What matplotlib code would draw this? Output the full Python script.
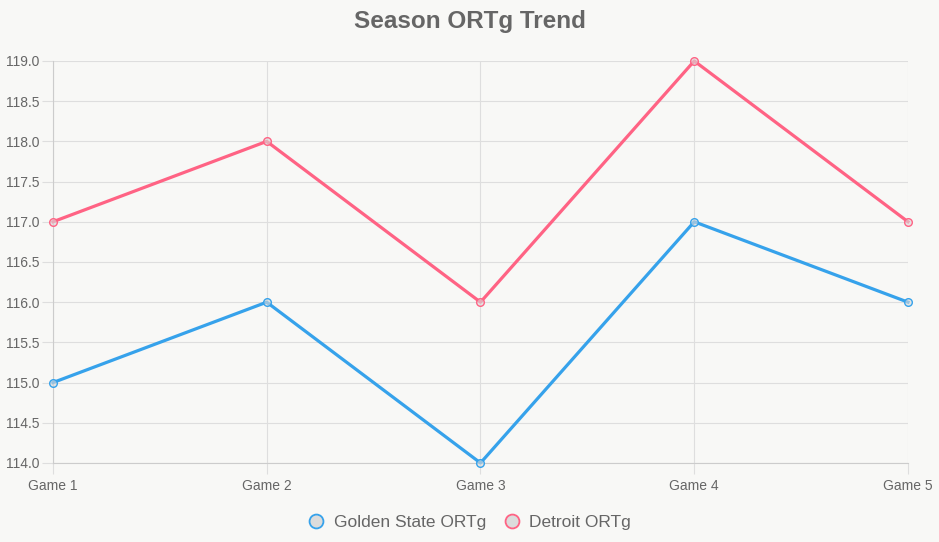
import matplotlib.pyplot as plt

games = ["Game 1", "Game 2", "Game 3", "Game 4", "Game 5"]
gsw_ortg = [115, 116, 114, 117, 116]
det_ortg = [117, 118, 116, 119, 117]
y_ticks = [114.0, 114.5, 115.0, 115.5, 116.0, 116.5, 117.0, 117.5, 118.0, 118.5, 119.0]

bg = "#f8f8f6"
grid_c = "#dedede"
text_c = "#666666"
blue = "#36a2eb"
pink = "#ff6384"

plt.rcParams["font.family"] = ["Liberation Sans", "DejaVu Sans"]

fig = plt.figure(figsize=(9.39, 5.42), dpi=100, facecolor=bg)
ax = fig.add_axes([0.0564, 0.1458, 0.9106, 0.7417], facecolor=bg)

x = list(range(len(games)))
for vals, col, name in [(gsw_ortg, blue, "Golden State ORTg"), (det_ortg, pink, "Detroit ORTg")]:
    ax.plot(x, vals, color=col, linewidth=2.3, zorder=3, label=name, clip_on=False,
            marker="o", markersize=5.5, markerfacecolor=(0.85, 0.85, 0.85, 0.6),
            markeredgecolor=col, markeredgewidth=1.0)

ax.set_xlim(0, 4)
ax.set_ylim(114, 119)
ax.set_xticks(x)
ax.set_xticklabels(games)
ax.set_yticks(y_ticks)
ax.set_yticklabels([f"{v:.1f}" for v in y_ticks])
ax.grid(True, color=grid_c, linewidth=0.8, zorder=0)
for s in ax.spines.values():
    s.set_visible(False)
ax.spines["left"].set_visible(True)
ax.spines["left"].set_color("#cccccc")
ax.spines["bottom"].set_visible(True)
ax.spines["bottom"].set_color("#cccccc")
ax.tick_params(axis="both", colors=grid_c, labelcolor=text_c, labelsize=10, length=8, width=0.8)
ax.tick_params(axis="y", pad=2)
ax.tick_params(axis="x", pad=3.5)

fig.suptitle("Season ORTg Trend", y=0.982, fontsize=17.5, fontweight="bold", color=text_c)

leg = fig.legend(loc="lower center", bbox_to_anchor=(0.5, -0.006), ncol=2, frameon=False,
                 fontsize=12.5, labelcolor=text_c, handlelength=1.0, handletextpad=0.5, columnspacing=1.0)
for h, col in zip(leg.legend_handles, [blue, pink]):
    h.set_linestyle("None")
    h.set_marker("o")
    h.set_markersize(10)
    h.set_markerfacecolor("#dcdcdc")
    h.set_markeredgecolor(col)
    h.set_markeredgewidth(1.3)

fig.savefig("out.png", dpi=100, facecolor=bg)
